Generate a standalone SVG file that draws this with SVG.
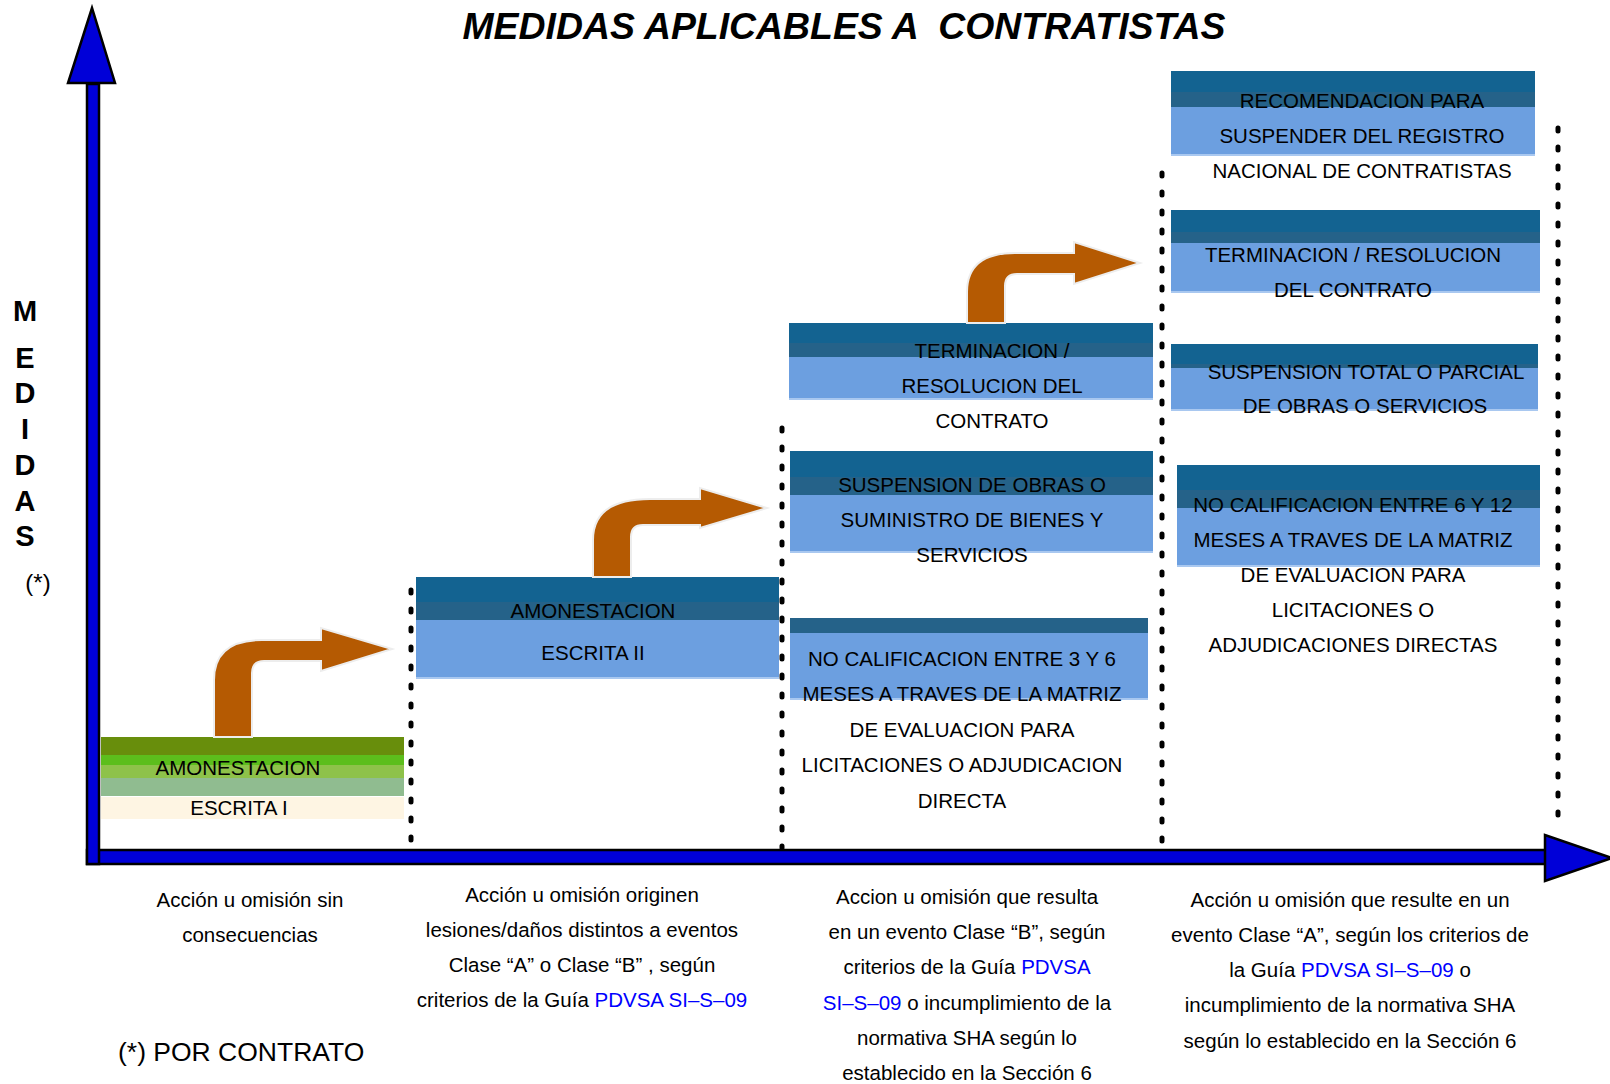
<svg xmlns="http://www.w3.org/2000/svg" width="1610" height="1084" viewBox="0 0 1610 1084">
<style>
.t{font-family:"Liberation Sans",Arial,sans-serif;font-size:20.5px;fill:#000;text-anchor:middle}
.lk{fill:#0000FF}
.dot{stroke:#000;stroke-width:5;stroke-linecap:round;stroke-dasharray:3 16;fill:none}
.arw{fill:#B55A02;stroke:#EDEDED;stroke-width:2}
.axis{fill:#0000D8;stroke:#000;stroke-width:2.5}
.dk{fill:#136391}
.md{fill:#256289}
.lt{fill:#6C9FE0}
.ln{fill:#A9C8F0}
</style>
<rect width="1610" height="1084" fill="#fff"/>
<text x="844" y="39" xml:space="preserve" style="font-family:'Liberation Sans',Arial,sans-serif;font-size:37.4px;font-weight:bold;font-style:italic;text-anchor:middle">MEDIDAS APLICABLES A  CONTRATISTAS</text>
<g id="ylabel" style="font-family:'Liberation Sans',Arial,sans-serif;font-size:29px;font-weight:bold;text-anchor:middle">
<text x="25" y="321">M</text><text x="25" y="368">E</text><text x="25" y="403">D</text><text x="25" y="439">I</text><text x="25" y="475">D</text><text x="25" y="511">A</text><text x="25" y="546">S</text>
</g>
<text x="38" y="591" class="t" style="font-size:24px">(*)</text>
<g id="dividers">
<line class="dot" x1="411" y1="590" x2="411" y2="848"/>
<line class="dot" x1="782" y1="428" x2="782" y2="848"/>
<line class="dot" x1="1162" y1="173" x2="1162" y2="850"/>
<line class="dot" x1="1558" y1="128" x2="1558" y2="830"/>
</g>
<g id="step1">
<rect x="101" y="737" width="303" height="18" fill="#688E0C"/>
<rect x="101" y="755" width="303" height="10" fill="#5CBE1C"/>
<rect x="101" y="765" width="303" height="13" fill="#8EC24A"/>
<rect x="101" y="778" width="303" height="18" fill="#90BC90"/>
<rect x="101" y="797" width="303" height="22" fill="#FEF5E3"/>
<text class="t" x="238" y="775">AMONESTACION</text>
<text class="t" x="239" y="815">ESCRITA I</text>
</g>
<g id="step2">
<rect class="dk" x="416" y="577" width="363" height="25"/>
<rect class="md" x="416" y="602" width="363" height="18"/>
<rect class="lt" x="416" y="620" width="363" height="58"/>
<rect class="ln" x="416" y="677" width="363" height="2"/>
<text class="t" x="593" y="618">AMONESTACION</text>
<text class="t" x="593" y="660">ESCRITA II</text>
</g>
<g id="step3a">
<rect class="dk" x="789" y="323" width="364" height="20"/>
<rect class="md" x="789" y="343" width="364" height="14"/>
<rect class="lt" x="789" y="357" width="364" height="42"/>
<rect class="ln" x="789" y="398" width="364" height="2"/>
<text class="t" x="992" y="358">TERMINACION /</text>
<text class="t" x="992" y="393">RESOLUCION DEL</text>
<text class="t" x="992" y="428">CONTRATO</text>
</g>
<g id="step3b">
<rect class="dk" x="790" y="451" width="363" height="26"/>
<rect class="md" x="790" y="477" width="363" height="18"/>
<rect class="lt" x="790" y="495" width="363" height="57"/>
<rect class="ln" x="790" y="551" width="363" height="2"/>
<text class="t" x="972" y="492">SUSPENSION DE OBRAS O</text>
<text class="t" x="972" y="527">SUMINISTRO DE BIENES Y</text>
<text class="t" x="972" y="562">SERVICIOS</text>
</g>
<g id="step3c">
<rect class="md" x="790" y="618" width="358" height="15"/>
<rect class="lt" x="790" y="633" width="358" height="66"/>
<rect class="ln" x="790" y="698" width="358" height="2"/>
<text class="t" x="962" y="666">NO CALIFICACION ENTRE 3 Y 6</text>
<text class="t" x="962" y="701">MESES A TRAVES DE LA MATRIZ</text>
<text class="t" x="962" y="737">DE EVALUACION PARA</text>
<text class="t" x="962" y="772">LICITACIONES O ADJUDICACION</text>
<text class="t" x="962" y="808">DIRECTA</text>
</g>
<g id="step4a">
<rect class="dk" x="1171" y="71" width="364" height="21"/>
<rect class="md" x="1171" y="92" width="364" height="15"/>
<rect class="lt" x="1171" y="107" width="364" height="48"/>
<rect class="ln" x="1171" y="154" width="364" height="2"/>
<text class="t" x="1362" y="108">RECOMENDACION PARA</text>
<text class="t" x="1362" y="143">SUSPENDER DEL REGISTRO</text>
<text class="t" x="1362" y="178">NACIONAL DE CONTRATISTAS</text>
</g>
<g id="step4b">
<rect class="dk" x="1171" y="210" width="369" height="22"/>
<rect class="md" x="1171" y="232" width="369" height="11"/>
<rect class="lt" x="1171" y="243" width="369" height="49"/>
<rect class="ln" x="1171" y="291" width="369" height="2"/>
<text class="t" x="1353" y="262">TERMINACION / RESOLUCION</text>
<text class="t" x="1353" y="297">DEL CONTRATO</text>
</g>
<g id="step4c">
<rect class="dk" x="1171" y="344" width="367" height="20"/>
<rect class="md" x="1171" y="364" width="367" height="4"/>
<rect class="lt" x="1171" y="368" width="367" height="42"/>
<rect class="ln" x="1171" y="409" width="367" height="2"/>
<text class="t" x="1366" y="379">SUSPENSION TOTAL O PARCIAL</text>
<text class="t" x="1365" y="413">DE OBRAS O SERVICIOS</text>
</g>
<g id="step4d">
<rect class="dk" x="1177" y="465" width="363" height="25"/>
<rect class="md" x="1177" y="490" width="363" height="18"/>
<rect class="lt" x="1177" y="508" width="363" height="58"/>
<rect class="ln" x="1177" y="565" width="363" height="2"/>
<text class="t" x="1353" y="512">NO CALIFICACION ENTRE 6 Y 12</text>
<text class="t" x="1353" y="547">MESES A TRAVES DE LA MATRIZ</text>
<text class="t" x="1353" y="582">DE EVALUACION PARA</text>
<text class="t" x="1353" y="617">LICITACIONES O</text>
<text class="t" x="1353" y="652">ADJUDICACIONES DIRECTAS</text>
</g>
<g id="connectors">
<path class="arw" d="M214,737 L214,680 Q214,640 262,640 L321,640 L321,628 L392,649 L321,671 L321,661 L264,661 Q252,661 252,673 L252,737 Z"/>
<path class="arw" d="M593,577 L593,540 Q593,499 650,499 L700,499 L700,488 L767,508 L700,528 L700,525 L643,525 Q631,525 631,537 L631,577 Z"/>
<path class="arw" d="M967,323 L967,292 Q967,253 1015,253 L1074,253 L1074,242 L1140,263 L1074,284 L1074,274 L1017,274 Q1005,274 1005,286 L1005,323 Z"/>
</g>
<g id="axes">
<rect class="axis" x="87" y="850" width="1460" height="14"/>
<rect class="axis" x="87" y="84" width="12" height="780"/>
<polygon class="axis" points="92,8 68,83 115,83"/>
<polygon class="axis" points="1545,835 1545,881 1612,858"/>
</g>
<g id="xlabels">
<text class="t" x="250" y="907">Acción u omisión sin</text>
<text class="t" x="250" y="942">consecuencias</text>
<text class="t" x="582" y="902">Acción u omisión originen</text>
<text class="t" x="582" y="937">lesiones/daños distintos a eventos</text>
<text class="t" x="582" y="972">Clase “A” o Clase “B” , según</text>
<text class="t" x="582" y="1007">criterios de la Guía <tspan class="lk">PDVSA SI–S–09</tspan></text>
<text class="t" x="967" y="904">Accion u omisión que resulta</text>
<text class="t" x="967" y="939">en un evento Clase “B”, según</text>
<text class="t" x="967" y="974">criterios de la Guía <tspan class="lk">PDVSA</tspan></text>
<text class="t" x="967" y="1010"><tspan class="lk">SI–S–09</tspan> o incumplimiento de la</text>
<text class="t" x="967" y="1045">normativa SHA según lo</text>
<text class="t" x="967" y="1080">establecido en la Sección 6</text>
<text class="t" x="1350" y="907">Acción u omisión que resulte en un</text>
<text class="t" x="1350" y="942">evento Clase “A”, según los criterios de</text>
<text class="t" x="1350" y="977">la Guía <tspan class="lk">PDVSA SI–S–09</tspan> o</text>
<text class="t" x="1350" y="1012">incumplimiento de la normativa SHA</text>
<text class="t" x="1350" y="1048">según lo establecido en la Sección 6</text>
<text x="118" y="1061" style="font-family:'Liberation Sans',Arial,sans-serif;font-size:26.5px">(*) POR CONTRATO</text>
</g>
</svg>
